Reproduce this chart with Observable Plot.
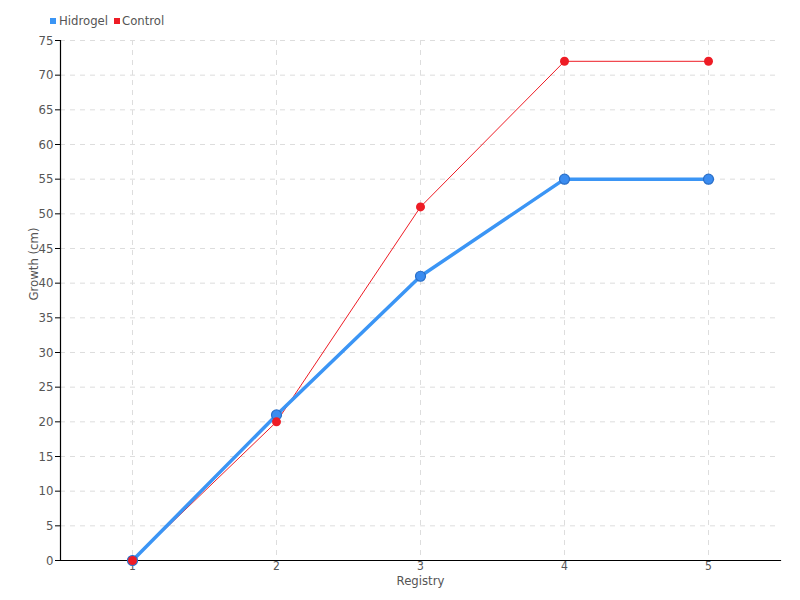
<!DOCTYPE html>
<html><head><meta charset="utf-8">
<script src="https://cdn.jsdelivr.net/npm/d3@7"></script>
<script src="https://cdn.jsdelivr.net/npm/@observablehq/plot@0.6"></script>
<style>
body{margin:0;background:#fff;font-family:"DejaVu Sans Condensed","Liberation Sans Narrow",sans-serif;}
#legend{height:30px;position:relative;font-size:13px;color:#555;}
.sw{position:absolute;top:18px;width:6px;height:6px;}
.lb{position:absolute;top:13px;line-height:16px;}
</style></head>
<body>
<div id="legend"></div>
<div id="chart"></div>
<script>
const registry = ["1","2","3","4","5"];
const hidrogel = [0, 21, 41, 55, 55];
const control = [0, 20, 51, 72, 72];
const yTicks = d3.range(0, 76, 5);
const seriesNames = ["Hidrogel", "Control"];
const colors = ["#3b95f5", "#ee1c25"];

const data = [];
registry.forEach((r, i) => {
  data.push({registry: r, value: hidrogel[i], series: "Hidrogel"});
  data.push({registry: r, value: control[i], series: "Control"});
});
const H = data.filter(d => d.series === "Hidrogel");
const C = data.filter(d => d.series === "Control");

// legend
const lg = document.getElementById("legend");
lg.innerHTML = `
<div class="sw" style="left:50px;background:${colors[0]}"></div><div class="lb" style="left:59px">${seriesNames[0]}</div>
<div class="sw" style="left:114px;background:${colors[1]}"></div><div class="lb" style="left:122px">${seriesNames[1]}</div>`;

const chart = Plot.plot({
  width: 800,
  height: 570,
  marginTop: 10,
  marginBottom: 40,
  marginLeft: 60,
  marginRight: 20,
  style: {fontFamily: '"DejaVu Sans Condensed","Liberation Sans Narrow",sans-serif', fontSize: "13px", color: "#555"},
  x: {type: "point", domain: registry, padding: 0.5, label: null},
  y: {domain: [0, 75], label: null},
  marks: [
    Plot.gridY(yTicks, {stroke: "#ddd", strokeOpacity: 1, strokeDasharray: "5,5"}),
    Plot.gridX(registry, {stroke: "#ddd", strokeOpacity: 1, strokeDasharray: "5,5"}),
    Plot.axisY(yTicks, {tickSize: 5, tickPadding: 2, stroke: "#000", fill: "#555", label: null, fontSize: 13}),
    Plot.axisX(registry, {tickSize: 0, tickPadding: 1, fill: "#555", label: null, fontSize: 12}),
    Plot.frame({anchor: "left", stroke: "#000", strokeWidth: 1.2}),
    Plot.frame({anchor: "bottom", stroke: "#000", strokeWidth: 1.2}),
    Plot.line(C, {x: "registry", y: "value", stroke: colors[1], strokeWidth: 1}),
    Plot.line(H, {x: "registry", y: "value", stroke: colors[0], strokeWidth: 3.5}),
    Plot.dot(H, {x: "registry", y: "value", r: 5, fill: "#3b8cf0", stroke: "#2a6fc8", strokeWidth: 1.2}),
    Plot.dot(C, {x: "registry", y: "value", r: 4.5, fill: colors[1], stroke: "none"}),
    Plot.text(["Growth (cm)"], {frameAnchor: "left", dx: -27, rotate: -90, fill: "#555", fontSize: 13}),
    Plot.text(["Registry"], {frameAnchor: "bottom", dy: 24, fill: "#555", fontSize: 13})
  ]
});
document.getElementById("chart").appendChild(chart);
</script>
</body></html>
